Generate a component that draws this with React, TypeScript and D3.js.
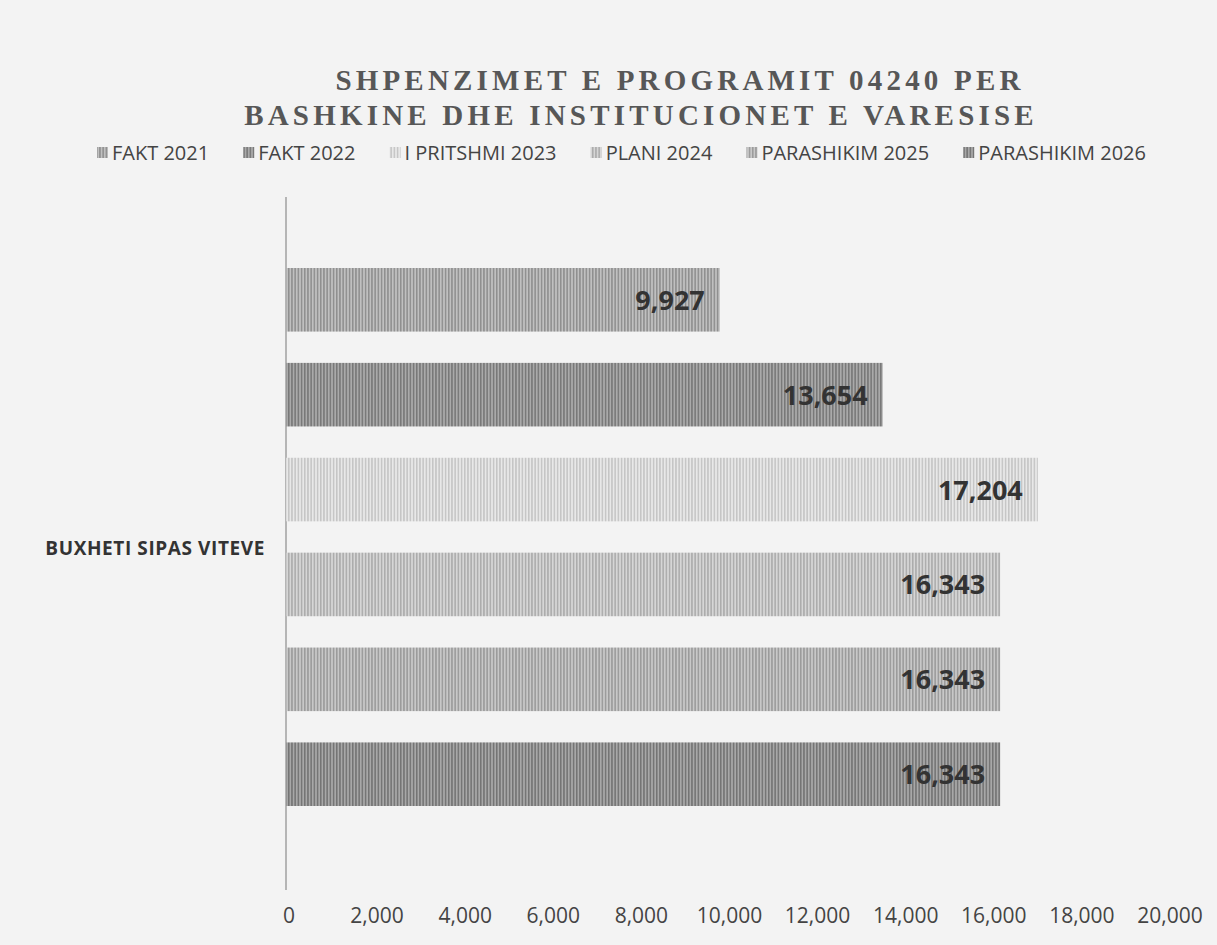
import React from "react";
import * as d3 from "d3";

const seriesNames = ["FAKT 2021", "FAKT 2022", "I PRITSHMI 2023", "PLANI 2024", "PARASHIKIM 2025", "PARASHIKIM 2026"];
const values = [9927, 13654, 17204, 16343, 16343, 16343];
const category = "BUXHETI SIPAS VITEVE";
const ticks = [0, 2000, 4000, 6000, 8000, 10000, 12000, 14000, 16000, 18000, 20000];
const titleLines = ["SHPENZIMET E PROGRAMIT 04240 PER", "BASHKINE DHE INSTITUCIONET E VARESISE"];

const baseColors = ["#c0c0c0", "#aaaaaa", "#e8e8e8", "#d6d6d6", "#c8c8c8", "#a8a8a8"];
const stripeColors = ["#8e8e8e", "#777777", "#c4c4c4", "#ababab", "#9a9a9a", "#737373"];

const W = 1217, H = 945;
const FONT = "'Open Sans', 'Liberation Sans', sans-serif";

function measure(text: string, font: string): number {
  if (typeof document === "undefined") return text.length * 10;
  const c = document.createElement("canvas");
  const ctx = c.getContext("2d");
  if (!ctx) return text.length * 10;
  ctx.font = font;
  return ctx.measureText(text).width;
}

export default function App() {
  const x = d3.scaleLinear().domain([0, 20000]).range([286, 1160]);
  const xLabel = d3.scaleLinear().domain([0, 20000]).range([289, 1170]);
  const y = d3.scaleBand<string>().domain(seriesNames).range([268, 806]).paddingInner(0.33).paddingOuter(0);
  const fmt = d3.format(",");

  const legendFontSize = 20;
  const legendFont = `${legendFontSize}px 'Open Sans'`;
  const sq = 11, sqGap = 4;
  const legendStart = 97, legendEnd = 1146;
  const widths = seriesNames.map((s) => sq + sqGap + measure(s, legendFont));
  const itemGap = Math.max(10, (legendEnd - legendStart - d3.sum(widths)) / (seriesNames.length - 1));
  let cursor = legendStart;
  const legendItems = seriesNames.map((s, i) => {
    const item = { name: s, x: cursor, i };
    cursor += widths[i] + itemGap;
    return item;
  });
  const titleX = [680, 641];

  return (
    <svg width={W} height={H} style={{ display: "block", position: "absolute", left: 0, top: 0 }}>
      <defs>
        {seriesNames.map((s, i) => (
          <pattern key={s} id={`pat${i}`} patternUnits="userSpaceOnUse" width={3.2} height={4}>
            <rect width={3.2} height={4} fill={baseColors[i]} />
            <rect width={1.5} height={4} fill={stripeColors[i]} />
          </pattern>
        ))}
      </defs>
      <rect width={W} height={H} fill="#f3f3f3" />
      {titleLines.map((t, i) => (
        <text key={t} x={titleX[i]} y={90 + i * 35} textAnchor="middle" fontFamily="'Liberation Serif', 'DejaVu Serif', serif"
          fontSize={29} fontWeight="bold" letterSpacing={4.2} fill="#575757">{t}</text>
      ))}
      {legendItems.map((it) => (
        <g key={it.name}>
          <rect x={it.x} y={147} width={sq} height={sq} fill={`url(#pat${it.i})`} />
          <text x={it.x + sq + sqGap} y={160} fontFamily={FONT} fontSize={legendFontSize} fill="#444">{it.name}</text>
        </g>
      ))}
      <line x1={286} x2={286} y1={197} y2={890} stroke="#b5b5b5" strokeWidth={2} />
      {seriesNames.map((s, i) => {
        const y0 = y(s)!;
        const x1 = x(values[i]);
        return (
          <g key={s}>
            <rect x={x(0)} y={y0} width={x1 - x(0)} height={y.bandwidth()} fill={`url(#pat${i})`} />
            <text x={x1 - 15} y={y0 + y.bandwidth() / 2 + 10} textAnchor="end" fontFamily={FONT}
              fontSize={27} fontWeight="bold" fill="#333">{fmt(values[i])}</text>
          </g>
        );
      })}
      <text x={265} y={555} textAnchor="end" fontFamily={FONT} fontSize={19} fontWeight="bold" letterSpacing={0.6} fill="#333">{category}</text>
      {ticks.map((t) => (
        <text key={t} x={xLabel(t)} y={923} textAnchor="middle" fontFamily={FONT} fontSize={21} fill="#444">{fmt(t)}</text>
      ))}
    </svg>
  );
}
